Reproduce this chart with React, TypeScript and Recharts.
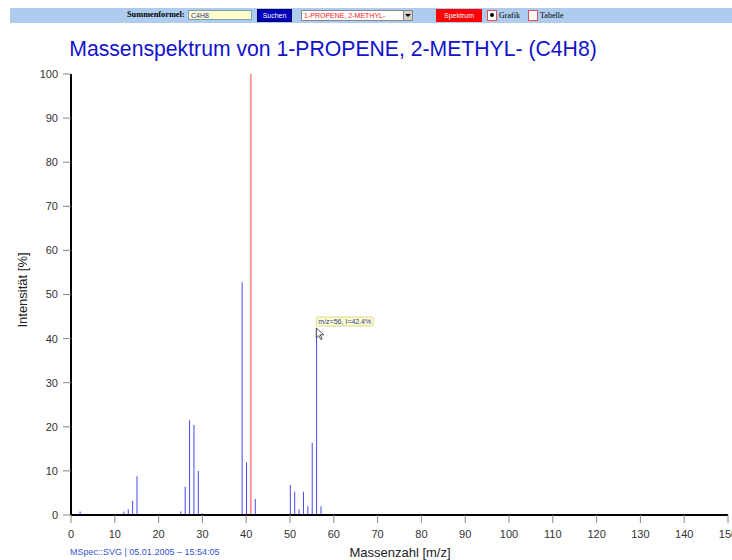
import React from "react";
import { ComposedChart, Bar, XAxis, YAxis, Cell, ReferenceDot } from "recharts";

// peaks of the spectrum: mass number and relative intensity in %
const massNumbers = [2, 12, 13, 14, 15, 25, 26, 27, 28, 29, 30, 39, 40, 41, 42, 50, 51, 52, 53, 54, 55, 56, 57];
const intensities = [0.8, 0.8, 1.3, 3.2, 8.8, 0.8, 6.4, 21.5, 20.4, 10.0, 0.4, 52.8, 11.9, 100, 3.6, 6.8, 5.3, 1.3, 5.3, 2.0, 16.4, 42.4, 2.0];

const xTicks = [0, 10, 20, 30, 40, 50, 60, 70, 80, 90, 100, 110, 120, 130, 140, 150];
const yTicks = [0, 10, 20, 30, 40, 50, 60, 70, 80, 90, 100];

const basePeak = 41;
const markedPeak = 56;

const chartData = massNumbers.map((mz, i) => ({ mz, intensity: intensities[i] }));
const marked = chartData.find((d) => d.mz === markedPeak)!;

const ARIAL = "Arial, 'Liberation Sans', sans-serif";
const SERIF = "'Times New Roman', 'Liberation Serif', serif";

const HoverLabel = (props: any) => {
	const { cx, cy } = props;
	if (cx == null || cy == null) return null;
	const text = `m/z=${marked.mz}, I=${marked.intensity}%`;
	return (
		<g>
			<rect x={cx} y={cy - 11} width={57} height={9} rx={2} fill="#ffffcc" stroke="#d8d890" strokeWidth={1} />
			<text x={cx + 28.5} y={cy - 4} textAnchor="middle" fontSize={7} fontFamily={ARIAL} fill="#3333aa">
				{text}
			</text>
			<path
				d={`M${cx},${cy} l0,10 l2.5,-2.5 l2,4 l1.5,-0.7 l-2,-4 l3.5,0 z`}
				fill="#fff"
				stroke="#222"
				strokeWidth={0.8}
			/>
		</g>
	);
};

const Toolbar = () => (
	<div style={{ position: "absolute", left: 10, top: 8, width: 722, height: 15, background: "#aecdee" }}>
		<span style={{ position: "absolute", left: 117, top: 2, fontFamily: SERIF, fontWeight: "bold", fontSize: 8.3, whiteSpace: "nowrap" }}>
			Summenformel:
		</span>
		<div
			style={{
				position: "absolute", left: 178, top: 2, width: 64, height: 10, background: "#ffffcc",
				border: "1px solid #7f9db9", fontFamily: ARIAL, fontSize: 7, lineHeight: "10px", color: "#333399", paddingLeft: 2,
				boxSizing: "border-box",
			}}
		>
			C4H8
		</div>
		<div
			style={{
				position: "absolute", left: 247, top: 1, width: 35, height: 13, background: "#0000bb",
				border: "1px solid #000066", boxSizing: "border-box", color: "#fff", fontFamily: ARIAL, fontSize: 7,
				lineHeight: "11px", textAlign: "center",
			}}
		>
			Suchen
		</div>
		<div
			style={{
				position: "absolute", left: 291, top: 2, width: 112, height: 11, background: "#fff",
				border: "1px solid #888", boxSizing: "border-box", color: "#ff2020", fontFamily: ARIAL, fontSize: 7,
				lineHeight: "9px", paddingLeft: 2,
			}}
		>
			1-PROPENE, 2-METHYL-
			<div style={{ position: "absolute", right: 0, top: 0, width: 8, height: 9, background: "#d4d0c8", borderLeft: "1px solid #888" }}>
				<div style={{ position: "absolute", left: 1, top: 3, width: 0, height: 0, borderLeft: "3px solid transparent", borderRight: "3px solid transparent", borderTop: "3px solid #000" }} />
			</div>
		</div>
		<div
			style={{
				position: "absolute", left: 426, top: 1, width: 46, height: 13, background: "#ff0000",
				color: "#fff", fontFamily: ARIAL, fontSize: 7, lineHeight: "13px", textAlign: "center",
			}}
		>
			Spektrum
		</div>
		<div style={{ position: "absolute", left: 477, top: 2, width: 10, height: 11, border: "1px solid #e05050", boxSizing: "border-box", background: "#fff" }}>
			<div style={{ position: "absolute", left: 2, top: 2, width: 4, height: 4, borderRadius: 2, background: "#000" }} />
		</div>
		<span style={{ position: "absolute", left: 489, top: 3, fontFamily: SERIF, fontSize: 8 }}>Grafik</span>
		<div style={{ position: "absolute", left: 518, top: 2, width: 10, height: 11, border: "1px solid #e05050", boxSizing: "border-box", background: "#fff" }} />
		<span style={{ position: "absolute", left: 530, top: 3, fontFamily: SERIF, fontSize: 8 }}>Tabelle</span>
	</div>
);

export default function App() {
	return (
		<div style={{ position: "absolute", left: 0, top: 0, width: 732, height: 560, background: "#fff", overflow: "hidden" }}>
			<Toolbar />
			<div
				style={{
					position: "absolute", left: 0, top: 35, width: 666, textAlign: "center", fontFamily: ARIAL,
					fontSize: 21.2, color: "#1212cc", lineHeight: "28px", whiteSpace: "nowrap",
				}}
			>
				Massenspektrum von 1-PROPENE, 2-METHYL- (C4H8)
			</div>
			<div
				style={{
					position: "absolute", left: 22, top: 290, transform: "translate(-50%, -50%) rotate(-90deg)",
					fontFamily: ARIAL, fontSize: 13, color: "#222", whiteSpace: "nowrap",
				}}
			>
				Intensität [%]
			</div>
			<div style={{ position: "absolute", left: 0, top: 545, width: 800, textAlign: "center", fontFamily: ARIAL, fontSize: 13, color: "#222" }}>
				Massenzahl [m/z]
			</div>
			<div style={{ position: "absolute", left: 70, top: 547, fontFamily: ARIAL, fontSize: 9, color: "#3355cc", whiteSpace: "nowrap" }}>
				MSpec::SVG | 05.01.2005 – 15:54:05
			</div>
			<div style={{ position: "absolute", left: 0, top: 0 }}>
				<ComposedChart width={732} height={560} data={chartData} margin={{ top: 74, right: 4, left: 0, bottom: 15 }}>
					<XAxis
						dataKey="mz"
						type="number"
						domain={[0, 150]}
						ticks={xTicks}
						interval={0}
						height={30}
						axisLine={{ stroke: "#000", strokeWidth: 2 }}
						tickLine={{ stroke: "#888" }}
						tickSize={8}
						tickMargin={7}
						tick={{ fontSize: 11, fontFamily: ARIAL, fill: "#333" }}
					/>
					<YAxis
						type="number"
						domain={[0, 100]}
						ticks={yTicks}
						interval={0}
						width={71}
						axisLine={{ stroke: "#000", strokeWidth: 2 }}
						tickLine={{ stroke: "#888" }}
						tickSize={8}
						tickMargin={5}
						tick={{ fontSize: 11, fontFamily: ARIAL, fill: "#333" }}
					/>
					<Bar dataKey="intensity" barSize={1} isAnimationActive={false} fill="#4848f0">
						{chartData.map((d) => (
							<Cell key={d.mz} fill={d.mz === basePeak ? "#ff4040" : "#4848f0"} />
						))}
					</Bar>
					<ReferenceDot x={marked.mz} y={marked.intensity} r={0} shape={HoverLabel} ifOverflow="visible" />
				</ComposedChart>
			</div>
		</div>
	);
}
